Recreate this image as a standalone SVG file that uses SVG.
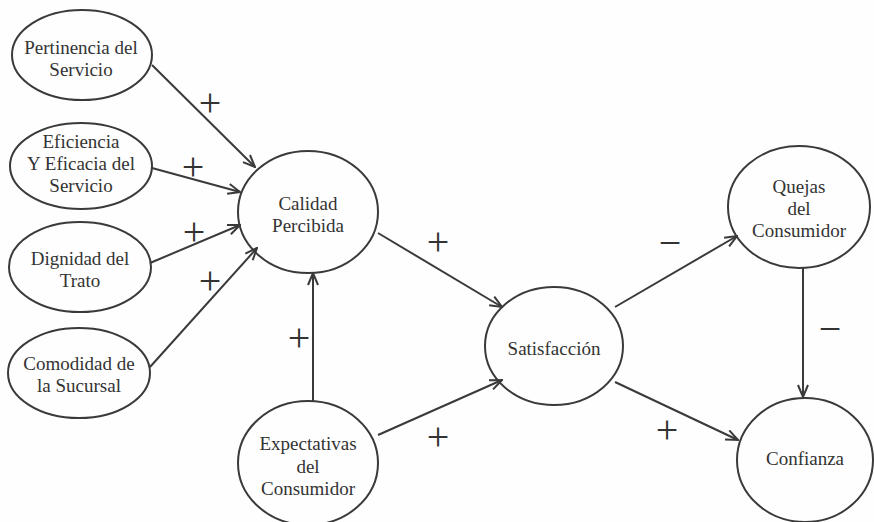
<svg xmlns="http://www.w3.org/2000/svg" width="874" height="522" viewBox="0 0 874 522">
<defs>
<marker id="arr" viewBox="0 0 14 12" refX="13" refY="6" markerWidth="14" markerHeight="12" markerUnits="userSpaceOnUse" orient="auto">
<path d="M1,1 L13,6 L1,11" fill="none" stroke="#3a3a3a" stroke-width="2" stroke-linejoin="miter"/>
</marker>
<style>
.n{fill:none;stroke:#3a3a3a;stroke-width:2}
.t{font-family:"Liberation Serif","Times New Roman",serif;font-size:19px;fill:#333;text-anchor:middle}
.c{stroke:#3a3a3a;stroke-width:2;fill:none;marker-end:url(#arr)}
.s{font-family:"Liberation Serif","Times New Roman",serif;font-size:40px;fill:#333;text-anchor:middle}
</style>
</defs>
<rect width="874" height="522" fill="#fefefe"/>
<g id="connectors">
<line class="c" x1="152" y1="65" x2="255" y2="167"/>
<line class="c" x1="152" y1="168" x2="240" y2="192"/>
<line class="c" x1="150" y1="263" x2="240" y2="225"/>
<line class="c" x1="150" y1="367" x2="257" y2="248"/>
<line class="c" x1="313" y1="402" x2="313" y2="273"/>
<line class="c" x1="378" y1="233" x2="502" y2="307"/>
<line class="c" x1="378" y1="435" x2="502" y2="380"/>
<line class="c" x1="615" y1="307" x2="737" y2="236"/>
<line class="c" x1="615" y1="382" x2="738" y2="440"/>
<line class="c" x1="803" y1="268" x2="803" y2="397"/>
<g id="labels">
<text class="s" x="210" y="116">+</text>
<text class="s" x="193" y="180">+</text>
<text class="s" x="194" y="245">+</text>
<text class="s" x="210" y="294">+</text>
<text class="s" x="299" y="351">+</text>
<text class="s" x="438" y="255">+</text>
<text class="s" x="438" y="450">+</text>
<text class="s" x="670" y="256">−</text>
<text class="s" x="667" y="443">+</text>
<text class="s" x="830" y="342">−</text>
</g>
</g>
<g id="pertinencia">
<ellipse class="n" cx="82" cy="55" rx="70" ry="45"/>
<text class="t" x="81" y="54">Pertinencia del</text>
<text class="t" x="81" y="76">Servicio</text>
</g>
<g id="eficiencia">
<ellipse class="n" cx="81" cy="166" rx="71" ry="43"/>
<text class="t" x="81" y="148">Eficiencia</text>
<text class="t" x="81" y="170">Y Eficacia del</text>
<text class="t" x="81" y="192">Servicio</text>
</g>
<g id="dignidad">
<ellipse class="n" cx="80" cy="267" rx="71" ry="45"/>
<text class="t" x="80" y="265">Dignidad del</text>
<text class="t" x="80" y="287">Trato</text>
</g>
<g id="comodidad">
<ellipse class="n" cx="79" cy="373" rx="71" ry="45"/>
<text class="t" x="79" y="370">Comodidad de</text>
<text class="t" x="79" y="392">la Sucursal</text>
</g>
<g id="calidad">
<ellipse class="n" cx="308" cy="212" rx="70" ry="61"/>
<text class="t" x="308" y="210">Calidad</text>
<text class="t" x="308" y="232">Percibida</text>
</g>
<g id="expectativas">
<ellipse class="n" cx="308" cy="463" rx="70" ry="62"/>
<text class="t" x="308" y="450">Expectativas</text>
<text class="t" x="308" y="473">del</text>
<text class="t" x="308" y="495">Consumidor</text>
</g>
<g id="satisfaccion">
<ellipse class="n" cx="554" cy="346" rx="69" ry="59"/>
<text class="t" x="554" y="355">Satisfacción</text>
</g>
<g id="quejas">
<ellipse class="n" cx="799" cy="207" rx="71" ry="61"/>
<text class="t" x="799" y="193">Quejas</text>
<text class="t" x="799" y="215">del</text>
<text class="t" x="799" y="237">Consumidor</text>
</g>
<g id="confianza">
<ellipse class="n" cx="805" cy="460" rx="68" ry="62"/>
<text class="t" x="805" y="465">Confianza</text>
</g>
</svg>
